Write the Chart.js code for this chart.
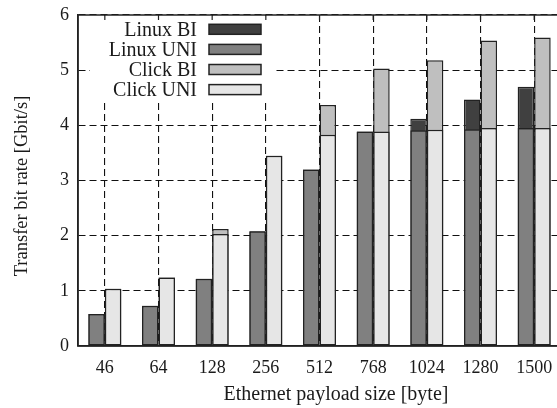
<!DOCTYPE html>
<html><head><meta charset="utf-8">
<script src="https://cdn.jsdelivr.net/npm/chart.js@4/dist/chart.umd.min.js"></script>
<style>
html,body{margin:0;padding:0;overflow:hidden;background:#fff;width:557px;height:408px}
#wrap{position:absolute;left:0;top:0;width:561px;height:408px}
canvas{display:block}
</style>
</head><body><div id="wrap"><canvas id="c" width="561" height="408"></canvas></div>
<script>
// ---- data ----
const categories = ['46','64','128','256','512','768','1024','1280','1500'];
const linuxBI  = [0.58, 0.73, 1.22, 2.08, 3.20, 3.89, 4.12, 4.47, 4.70];
const linuxUNI = [0.58, 0.73, 1.22, 2.08, 3.20, 3.89, 3.91, 3.93, 3.95];
const clickBI  = [1.04, 1.24, 2.12, 3.45, 4.37, 5.03, 5.18, 5.54, 5.59];
const clickUNI = [1.04, 1.24, 2.03, 3.45, 3.83, 3.89, 3.92, 3.95, 3.95];
const yTicks = [0, 1, 2, 3, 4, 5, 6];
const seriesNames = ['Linux BI', 'Linux UNI', 'Click BI', 'Click UNI'];
const xTitle = 'Ethernet payload size [byte]';
const yTitle = 'Transfer bit rate [Gbit/s]';

const colors = { 'Linux BI': '#404040', 'Linux UNI': '#808080', 'Click BI': '#bfbfbf', 'Click UNI': '#e6e6e6' };
const FONT = "'Liberation Serif', 'Times New Roman', serif";
const INK = '#1a1a1a';

const overlay = {
  id: 'overlay',
  afterDatasetsDraw(chart) {
    const { ctx, chartArea: a, scales } = chart;
    ctx.save();
    // key background
    ctx.fillStyle = '#fff';
    ctx.fillRect(a.left + 12, a.top + 1, 183, 83);
    // key entries
    ctx.font = '20px ' + FONT;
    ctx.textAlign = 'right';
    ctx.textBaseline = 'middle';
    seriesNames.forEach((name, i) => {
      const y = a.top + 14.3 + i * 20.1;
      ctx.fillStyle = INK;
      ctx.fillText(name, a.left + 119, y + 1);
      ctx.fillStyle = colors[name];
      ctx.fillRect(a.left + 131, y - 5, 52, 10);
      ctx.strokeStyle = '#222';
      ctx.lineWidth = 1.5;
      ctx.strokeRect(a.left + 131, y - 5, 52, 10);
    });
    // border
    ctx.strokeStyle = '#222';
    ctx.lineWidth = 1.5;
    ctx.strokeRect(a.left, a.top, a.right - a.left, a.bottom - a.top);
    // top mirror tics
    ctx.lineWidth = 1.2;
    categories.forEach((c, i) => {
      const x = scales.x.getPixelForValue(i);
      ctx.beginPath(); ctx.moveTo(x, a.top); ctx.lineTo(x, a.top + 5); ctx.stroke();
    });
    // axis titles
    ctx.fillStyle = INK;
    ctx.textAlign = 'center';
    ctx.textBaseline = 'middle';
    ctx.font = '20px ' + FONT;
    ctx.fillText(xTitle, a.left + 258, 395);
    ctx.translate(22, 186);
    ctx.rotate(-Math.PI / 2);
    ctx.font = '18.5px ' + FONT;
    ctx.fillText(yTitle, 0, 0);
    ctx.restore();
  }
};

const common = { borderColor: '#222', borderWidth: 1.5, borderSkipped: false, barPercentage: 1.0, categoryPercentage: 0.616 };

new Chart(document.getElementById('c'), {
  type: 'bar',
  data: {
    labels: categories,
    datasets: [
      Object.assign({ label: 'Linux UNI', data: linuxUNI, backgroundColor: colors['Linux UNI'], stack: 'linux', order: 0 }, common),
      Object.assign({ label: 'Click UNI', data: clickUNI, backgroundColor: colors['Click UNI'], stack: 'click', order: 1 }, common),
      Object.assign({ label: 'Linux BI', data: linuxBI, backgroundColor: colors['Linux BI'], stack: 'linux', order: 2 }, common),
      Object.assign({ label: 'Click BI', data: clickBI, backgroundColor: colors['Click BI'], stack: 'click', order: 3 }, common)
    ]
  },
  options: {
    responsive: false,
    animation: false,
    devicePixelRatio: 1,
    layout: { padding: { top: 15, left: 0, right: 0, bottom: 0 } },
    plugins: { legend: { display: false }, tooltip: { enabled: false }, title: { display: false } },
    scales: {
      x: {
        stacked: true,
        grid: { offset: false, drawTicks: false, color: '#111', lineWidth: 1.1 },
        border: { display: true, color: '#222', width: 1.5, dash: [7, 4] },
        ticks: { color: INK, font: { family: FONT, size: 18 }, padding: 11, maxRotation: 0, autoSkip: false },
        afterFit(s) { s.height = 62; s.paddingLeft = 0; s.paddingRight = 0; }
      },
      y: {
        stacked: false,
        min: 0, max: 6,
        afterBuildTicks(s) { s.ticks = yTicks.map(v => ({ value: v })); },
        grid: { drawTicks: false, color: '#111', lineWidth: 1.1 },
        border: { display: true, color: '#222', width: 1.5, dash: [7, 4] },
        ticks: { color: INK, font: { family: FONT, size: 18 }, padding: 9 },
        afterFit(s) { s.width = 78; s.paddingTop = 0; s.paddingBottom = 0; }
      }
    }
  },
  plugins: [overlay]
});
</script>
</body></html>
